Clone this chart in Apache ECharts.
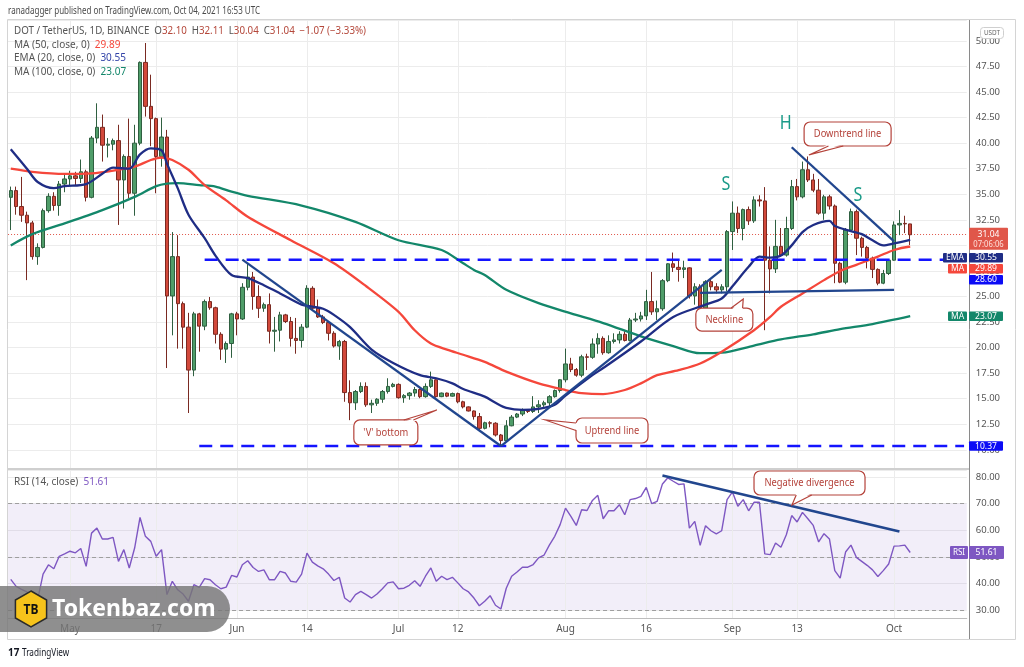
<!DOCTYPE html>
<html>
<head>
<meta charset="utf-8">
<title>DOT / TetherUS 1D</title>
<script src="https://cdn.jsdelivr.net/npm/echarts@6/dist/echarts.min.js"></script>
<style>
  html, body { margin: 0; padding: 0; background: #fff; }
  #chart { width: 1024px; height: 667px; }
</style>
</head>
<body>
<div id="chart"></div>
<script>
// DOT/USDT 日线, 2021-04-20 起, 右侧留空到 10-14
const dayCount = 178

const open = [
  34.70, 35.36, 33.80, 32.95, 32.20, 28.90, 29.80, 33.40, 34.80, 33.90,
  36.00, 36.50, 36.80, 36.55, 37.20, 34.70, 40.50, 41.55, 39.80, 39.90,
  40.25, 36.40, 38.70, 35.10, 40.00, 47.90, 43.60, 42.40, 38.70, 40.60,
  25.05, 28.90, 24.30, 22.00, 17.80, 23.30, 22.10, 24.50, 23.90, 21.30,
  19.85, 20.40, 23.30, 22.80, 25.90, 26.90, 25.00, 23.85, 24.20, 21.60,
  21.70, 23.20, 22.55, 20.90, 20.70, 22.00, 25.80, 23.85, 23.00, 22.45,
  21.40, 20.15, 20.60, 15.60, 14.60, 15.70, 16.20, 14.40, 14.55, 14.95,
  15.70, 16.20, 16.40, 15.10, 15.30, 15.55, 15.90, 15.20, 16.20, 16.85,
  15.20, 15.55, 15.25, 15.50, 14.70, 14.20, 13.80, 13.25, 12.10, 12.65,
  12.60, 11.45, 10.90, 12.35, 13.20, 13.50, 13.85, 13.75, 14.20, 14.40,
  14.60, 15.20, 15.80, 16.85, 18.40, 17.85, 17.30, 19.10, 19.05, 20.35,
  20.90, 19.50, 20.60, 20.75, 21.30, 20.70, 22.70, 22.80, 23.10, 24.50,
  23.50, 23.80, 26.55, 28.20, 27.85, 27.65, 27.80, 25.05, 25.95, 23.85,
  26.45, 25.95, 25.65, 25.95, 31.35, 33.15, 31.65, 33.50, 32.40, 34.45,
  34.35, 28.55, 27.70, 29.90, 29.05, 31.65, 35.75, 34.75, 37.40, 36.40,
  35.40, 33.15, 34.75, 33.85, 28.25, 26.40, 31.50, 33.30, 30.70, 29.80,
  28.75, 27.65, 26.30, 27.25, 28.55, 32.00, 32.15, 32.10
]
const high = [
  35.75, 35.75, 36.70, 33.30, 32.40, 30.20, 33.60, 35.10, 35.20, 36.30,
  37.00, 37.30, 37.20, 38.40, 37.40, 40.70, 43.90, 42.80, 40.50, 40.45,
  41.80, 38.90, 42.40, 41.80, 48.00, 49.80, 46.70, 42.50, 42.50, 41.30,
  31.30, 31.00, 24.50, 23.40, 23.50, 23.40, 24.70, 24.95, 24.00, 21.50,
  20.60, 23.40, 23.50, 26.30, 28.20, 27.40, 26.10, 24.40, 25.30, 23.00,
  23.50, 23.30, 23.00, 22.90, 22.30, 26.10, 26.00, 24.70, 23.20, 22.60,
  21.60, 20.75, 20.75, 16.80, 15.85, 16.60, 16.60, 14.90, 15.05, 15.85,
  17.00, 16.55, 16.50, 15.45, 15.65, 16.15, 16.00, 16.50, 17.65, 16.90,
  15.60, 15.60, 15.60, 15.60, 14.80, 14.25, 13.85, 13.60, 12.75, 12.80,
  12.70, 11.55, 12.90, 13.40, 13.60, 14.05, 13.90, 15.25, 14.85, 14.80,
  15.35, 15.90, 16.90, 19.90, 19.00, 18.00, 19.30, 19.40, 20.90, 21.40,
  21.10, 21.20, 21.40, 21.60, 21.60, 22.90, 23.40, 23.50, 25.65, 27.40,
  24.60, 26.70, 28.25, 29.30, 28.60, 28.50, 27.85, 26.30, 26.20, 26.60,
  26.75, 26.30, 26.20, 31.50, 34.30, 33.80, 33.60, 33.80, 34.80, 34.90,
  35.70, 29.90, 32.50, 31.70, 32.80, 36.40, 36.50, 38.20, 38.70, 37.00,
  36.50, 34.95, 34.95, 34.00, 28.40, 31.70, 33.60, 33.50, 30.85, 29.95,
  28.90, 27.75, 27.60, 28.65, 32.35, 33.45, 32.90, 32.11
]
const low = [
  31.50, 33.00, 32.30, 26.60, 28.60, 28.10, 29.70, 33.20, 33.40, 32.90,
  35.20, 35.90, 35.90, 36.10, 34.30, 34.60, 40.00, 38.20, 38.60, 39.30,
  32.00, 33.60, 34.60, 32.90, 39.80, 42.60, 39.70, 35.10, 37.70, 18.00,
  21.20, 19.90, 19.90, 13.60, 17.20, 19.60, 21.70, 23.70, 20.40, 18.80,
  18.50, 19.00, 21.20, 22.70, 25.60, 23.70, 22.90, 23.50, 20.40, 19.60,
  20.60, 22.40, 20.10, 19.40, 20.00, 21.90, 23.70, 22.90, 22.30, 20.70,
  20.00, 18.80, 14.70, 12.90, 13.90, 15.55, 14.20, 13.60, 14.30, 14.60,
  15.50, 16.10, 15.00, 14.60, 14.90, 15.20, 15.05, 15.10, 16.05, 15.10,
  15.15, 15.15, 15.20, 14.55, 14.05, 13.75, 12.95, 11.95, 12.00, 12.20,
  11.30, 10.37, 10.80, 12.30, 13.10, 13.30, 13.60, 13.60, 13.60, 14.20,
  14.20, 15.10, 15.60, 16.60, 17.60, 17.15, 17.10, 17.80, 18.90, 19.40,
  19.30, 19.40, 20.40, 20.40, 20.60, 20.60, 22.50, 22.55, 22.70, 23.20,
  22.70, 23.60, 26.40, 27.40, 26.45, 26.80, 24.80, 24.20, 23.70, 23.70,
  25.60, 25.30, 25.30, 25.50, 29.55, 31.20, 30.50, 32.00, 32.20, 33.80,
  21.70, 25.30, 27.30, 28.90, 28.90, 31.50, 34.40, 34.60, 36.20, 35.20,
  33.00, 32.50, 33.50, 26.30, 26.30, 26.20, 31.40, 29.05, 28.90, 27.75,
  26.80, 26.10, 26.20, 27.10, 28.50, 31.00, 31.20, 30.04
]
const close = [
  35.36, 33.80, 32.95, 32.20, 28.90, 29.80, 33.40, 34.80, 33.90, 36.00,
  36.50, 36.80, 36.55, 37.20, 34.70, 40.50, 41.55, 39.80, 39.90, 40.25,
  36.40, 38.70, 35.10, 40.00, 47.90, 43.60, 42.40, 38.70, 40.60, 25.05,
  28.90, 24.30, 22.00, 17.80, 23.30, 22.10, 24.50, 23.90, 21.30, 19.85,
  20.40, 23.30, 22.80, 25.90, 26.90, 25.00, 23.85, 24.20, 21.60, 21.70,
  23.20, 22.55, 20.90, 20.70, 22.00, 25.80, 23.85, 23.00, 22.45, 21.40,
  20.15, 20.60, 15.60, 14.60, 15.70, 16.20, 14.40, 14.55, 14.95, 15.70,
  16.20, 16.40, 15.10, 15.30, 15.55, 15.90, 15.20, 16.20, 16.85, 15.20,
  15.55, 15.25, 15.50, 14.70, 14.20, 13.80, 13.25, 12.10, 12.65, 12.60,
  11.45, 10.90, 12.35, 13.20, 13.50, 13.85, 13.75, 14.20, 14.40, 14.60,
  15.20, 15.80, 16.85, 18.40, 17.85, 17.30, 19.10, 19.05, 20.35, 20.90,
  19.50, 20.60, 20.75, 21.30, 20.70, 22.70, 22.80, 23.10, 24.50, 23.50,
  23.80, 26.55, 28.20, 27.85, 27.65, 27.80, 25.05, 25.95, 23.85, 26.45,
  25.95, 25.65, 25.95, 31.35, 33.15, 31.65, 33.50, 32.40, 34.45, 34.35,
  28.55, 27.70, 29.90, 29.05, 31.65, 35.75, 34.75, 37.40, 36.40, 35.40,
  33.15, 34.75, 33.85, 28.25, 26.40, 31.50, 33.30, 30.70, 29.80, 28.75,
  27.65, 26.30, 27.25, 28.55, 32.00, 32.15, 32.10, 31.04
]

// 均线读数 [第几天, 值]
const ema20 = [[0, 39.4], [3, 37.5], [5, 36.2], [8, 35.6], [10, 35.8], [14, 36.0], [17, 37.0], [19, 37.6], [22, 37.5], [24, 38.9], [26, 39.5], [28, 39.3], [29, 38.0], [31, 35.6], [33, 33.0], [36, 30.7], [38, 29.0], [41, 27.1], [44, 26.8], [47, 26.1], [50, 25.3], [54, 24.2], [56, 24.0], [58, 23.8], [60, 23.2], [63, 22.0], [67, 19.8], [71, 18.5], [76, 17.3], [79, 17.0], [82, 16.5], [84, 15.95], [88, 15.2], [90, 14.6], [92, 14.1], [95, 13.9], [98, 14.0], [101, 14.4], [103, 15.3], [108, 17.3], [110, 18.0], [117, 20.6], [123, 23.0], [129, 24.2], [132, 24.8], [134, 26.0], [137, 27.9], [139, 28.9], [141, 28.8], [143, 29.0], [145, 30.0], [147, 31.3], [149, 32.0], [152, 32.4], [153, 31.9], [156, 31.4], [158, 31.1], [160, 30.5], [162, 30.0], [164, 30.2], [167, 30.55]]
const ma50 = [[0, 37.5], [4, 37.2], [10, 37.0], [15, 37.05], [20, 37.4], [23, 37.7], [26, 38.35], [28, 38.6], [30, 38.35], [33, 37.4], [36, 35.9], [40, 34.4], [44, 32.8], [52, 30.5], [60, 28.25], [66, 26.0], [72, 23.5], [75, 21.7], [78, 20.4], [81, 19.8], [84, 19.3], [88, 18.6], [92, 17.65], [98, 16.5], [103, 15.85], [106, 15.55], [110, 15.45], [114, 15.85], [117, 16.5], [120, 17.3], [124, 17.8], [128, 18.45], [132, 19.6], [138, 21.7], [141, 23.0], [143, 24.0], [147, 25.3], [151, 26.6], [154, 27.5], [157, 28.1], [161, 28.9], [164, 29.55], [167, 29.89]]
const ma100 = [[0, 30.0], [4, 31.1], [10, 32.15], [17, 33.45], [23, 34.75], [27, 35.8], [29, 36.05], [31, 36.1], [35, 35.9], [38, 35.75], [41, 35.25], [44, 34.85], [54, 33.9], [64, 32.3], [72, 30.5], [80, 29.55], [84, 28.25], [86, 27.6], [88, 27.1], [92, 25.65], [98, 24.35], [104, 23.35], [110, 22.4], [117, 21.1], [123, 20.15], [128, 19.45], [132, 19.5], [138, 20.2], [143, 20.8], [149, 21.3], [154, 21.8], [160, 22.3], [167, 23.07]]

const rsi = [
  41.5, 38.9, 37.8, 36.8, 35.1, 33.9, 43.5, 47.0, 45.5, 50.2,
  51.1, 52.1, 51.5, 53.1, 46.4, 58.9, 60.8, 56.7, 56.7, 57.3,
  48.3, 52.7, 45.8, 53.3, 64.8, 57.7, 55.8, 50.2, 52.7, 35.8,
  40.8, 37.6, 36.0, 33.3, 39.5, 38.5, 41.8, 41.4, 39.5, 38.0,
  38.6, 43.0, 42.4, 47.0, 48.5, 46.0, 44.5, 45.1, 41.4, 41.4,
  44.5, 43.9, 40.8, 40.5, 43.5, 51.4, 48.0, 46.6, 45.5, 43.5,
  41.1, 42.3, 34.5, 33.0, 35.8, 37.0, 35.8, 34.5, 36.0, 38.0,
  40.2, 40.6, 38.0, 38.2, 39.3, 41.0, 38.9, 42.7, 45.8, 40.8,
  42.7, 41.4, 42.3, 40.2, 38.0, 36.8, 34.5, 31.6, 33.3, 35.4,
  31.8, 30.4, 38.2, 42.7, 44.3, 46.1, 46.1, 47.1, 49.6, 50.6,
  54.4, 57.7, 62.1, 68.3, 65.2, 61.8, 67.7, 67.4, 71.2, 73.1,
  64.3, 67.3, 67.3, 69.6, 65.8, 71.5, 71.9, 72.7, 76.1, 70.0,
  70.8, 77.4, 79.7, 78.4, 77.2, 77.4, 60.8, 63.3, 54.3, 61.7,
  59.8, 58.6, 59.8, 71.5, 74.4, 69.0, 71.5, 67.3, 70.5, 70.5,
  51.1, 50.8, 55.2, 53.6, 58.3, 65.5, 63.1, 66.7, 64.3, 61.8,
  55.6, 58.7, 56.7, 44.8, 42.0, 51.8, 54.4, 49.8, 48.3, 46.8,
  45.1, 42.6, 44.8, 47.3, 54.0, 54.1, 54.4, 51.61
]

// 画线
const resistance = [[36, 28.6], [177, 28.6]]
const support = [[35, 10.37], [177, 10.37]]
const downTrend = [[43, 28.6], [91, 10.37]]
const upTrend = [[91, 10.37], [132, 27.6]]
const neckline = [[128, 25.35], [164, 25.65]]
const downTrendRight = [[145, 39.6], [164, 30.4]]
const rsiDivergence = [[121, 80.6], [165, 59.5]]

const tickDays = ['2021-05-01', '2021-05-17', '2021-06-01', '2021-06-14', '2021-07-01', '2021-07-12', '2021-08-01', '2021-08-16', '2021-09-01', '2021-09-13', '2021-10-01']
const tickLabels = ['May', '17', 'Jun', '14', 'Jul', '12', 'Aug', '16', 'Sep', '13', 'Oct']

const lastClose = 31.04
const lastEma = 30.55
const lastMa50 = 29.89
const lastMa100 = 23.07
const lastRsi = 51.61

const days = []
for (let i = 0; i < dayCount; i++) {
  days.push(new Date(Date.UTC(2021, 3, 20 + i)).toISOString().slice(0, 10))
}
const candles = open.map((o, i) => [o, close[i], low[i], high[i]])

const emaColor = '#1f2d85'
const ma50Color = '#f5473b'
const ma100Color = '#13876a'
const trendColor = '#21468e'
const dashBlue = '#1414ff'
const noteRed = '#b4423a'
const font = '"Noto Sans", "Liberation Sans", sans-serif'

const gridLeft = 8.06
const gridWidth = 958.7

const trendLine = (data, color, width, type) => ({
  type: 'line',
  data: data,
  showSymbol: false,
  silent: true,
  z: 5,
  lineStyle: { color: color, width: width, type: type || 'solid' }
})

const option = {
  animation: false,
  backgroundColor: '#fff',
  textStyle: { fontFamily: font },
  grid: [
    { left: gridLeft, width: gridWidth, top: 20, height: 448 },
    { left: gridLeft, width: gridWidth, top: 470, height: 148 }
  ],
  xAxis: [
    {
      type: 'category', gridIndex: 0, data: days, boundaryGap: true,
      axisLine: { show: false }, axisTick: { show: false }, axisLabel: { show: false }, splitLine: { show: false }
    },
    {
      type: 'category', gridIndex: 1, data: days, boundaryGap: true,
      axisLine: { show: true, lineStyle: { color: '#bdbdbd' } },
      axisTick: { show: false },
      splitLine: { show: false },
      axisLabel: {
        color: '#555', fontSize: 10, margin: 6,
        interval: (idx, val) => tickDays.includes(val),
        formatter: val => tickLabels[tickDays.indexOf(val)] || ''
      }
    }
  ],
  yAxis: [
    {
      type: 'value', gridIndex: 0, position: 'right', min: 8.22, max: 52.05,
      minInterval: 2.5, maxInterval: 2.5,
      axisLine: { show: false }, axisTick: { show: false },
      splitLine: { lineStyle: { color: '#ececec' } },
      axisLabel: {
        color: '#555', fontSize: 9.5, margin: 9, showMinLabel: false, showMaxLabel: false,
        formatter: v => v.toFixed(2)
      }
    },
    {
      type: 'value', gridIndex: 1, position: 'right', min: 27, max: 82.63,
      minInterval: 10, maxInterval: 10,
      axisLine: { show: false }, axisTick: { show: false },
      splitLine: { lineStyle: { color: '#ececec' } },
      axisLabel: {
        color: '#555', fontSize: 9.5, margin: 9, showMinLabel: false, showMaxLabel: false,
        formatter: v => v.toFixed(2)
      }
    }
  ],
  series: [
    {
      type: 'candlestick',
      xAxisIndex: 0, yAxisIndex: 0,
      data: candles,
      barWidth: '72%',
      z: 3,
      itemStyle: {
        color: '#4f9d69', color0: '#d2493b',
        borderColor: '#2f5f40', borderColor0: '#7a2a22', borderWidth: 1
      },
      markLine: {
        silent: true, symbol: 'none', z: 1,
        label: { show: false },
        data: tickDays.map(d => ({ xAxis: d, lineStyle: { color: '#ececec', width: 1, type: 'solid' } }))
          .concat([{ yAxis: lastClose, lineStyle: { color: '#e0574a', width: 1, type: [1, 2] } }])
      }
    },
    { type: 'line', name: 'MA100', data: ma100, smooth: 0.3, showSymbol: false, z: 4, lineStyle: { color: ma100Color, width: 2.3 } },
    { type: 'line', name: 'MA50', data: ma50, smooth: 0.3, showSymbol: false, z: 4, lineStyle: { color: ma50Color, width: 2.3 } },
    { type: 'line', name: 'EMA20', data: ema20, smooth: 0.3, showSymbol: false, z: 4, lineStyle: { color: emaColor, width: 2.3 } },
    trendLine(resistance, dashBlue, 2.5, [13, 8]),
    trendLine(support, dashBlue, 2.5, [13, 8]),
    trendLine(downTrend, trendColor, 2.3),
    trendLine(upTrend, trendColor, 2.3),
    trendLine(neckline, trendColor, 2.3),
    trendLine(downTrendRight, trendColor, 2.3),
    {
      type: 'line', name: 'RSI', xAxisIndex: 1, yAxisIndex: 1,
      data: rsi, showSymbol: false, z: 3,
      lineStyle: { color: '#7e57c2', width: 1.4 },
      markArea: {
        silent: true,
        itemStyle: { color: 'rgba(126, 87, 194, 0.1)' },
        data: [[{ yAxis: 70 }, { yAxis: 30 }]]
      },
      markLine: {
        silent: true, symbol: 'none', z: 1,
        label: { show: false },
        data: tickDays.map(d => ({ xAxis: d, lineStyle: { color: '#ececec', width: 1, type: 'solid' } }))
          .concat([70, 50, 30].map(v => ({ yAxis: v, lineStyle: { color: '#9e9e9e', width: 1, type: [4, 3] } })))
      }
    },
    Object.assign(trendLine(rsiDivergence, trendColor, 2.6), { xAxisIndex: 1, yAxisIndex: 1 })
  ]
}

const chart = echarts.init(document.getElementById('chart'))
chart.setOption(option)

// 分数位置换算成像素
const toPx = (grid, i, v) => {
  const i0 = Math.floor(i)
  const a = chart.convertToPixel({ gridIndex: grid }, [i0, v])
  const b = chart.convertToPixel({ gridIndex: grid }, [i0 + 1, v])
  return [a[0] + (b[0] - a[0]) * (i - i0), a[1]]
}

const notes = [
  { text: "'V' bottom", grid: 0, box: [63.7, 12.92], w: 64, h: 25, tip: [79.1, 13.89], base: [0.78, 0, 0.93, 0] },
  { text: 'Uptrend line', grid: 0, box: [104.95, 13.11], w: 72, h: 25, tip: [99.2, 12.92], base: [0, 0.2, 0, 0.5] },
  { text: 'Neckline', grid: 0, box: [127.2, 23.87], w: 57, h: 23, tip: [136, 24.76], base: [0.62, 0, 0.82, 0] },
  { text: 'Downtrend line', grid: 0, box: [147.3, 42.07], w: 87, h: 24, tip: [148.2, 38.85], base: [0.28, 1, 0.45, 1] },
  { text: 'Negative divergence', grid: 1, box: [138, 82.26], w: 111, h: 24, tip: [145.05, 69.47], base: [0.38, 1, 0.52, 1] }
]
const patternMarks = [
  { text: 'S', at: [132.8, 35.9] },
  { text: 'H', at: [143.9, 41.9] },
  { text: 'S', at: [157.3, 34.9] }
]

const txt = (x, y, text, opt) => Object.assign({
  type: 'text', x: x, y: y, z: 30, silent: true,
  style: Object.assign({
    text: text, fill: '#555', font: '10px ' + font,
    align: 'left', textAlign: 'left', verticalAlign: 'middle', textVerticalAlign: 'middle'
  }, opt && opt.style)
}, opt && opt.props)

const shift = (f) => (f === 0 ? 2 : f === 1 ? -2 : 0)

function callout(n) {
  const tl = toPx(n.grid, n.box[0], n.box[1])
  const tip = toPx(n.grid, n.tip[0], n.tip[1])
  const b1 = [tl[0] + n.base[0] * n.w, tl[1] + n.base[1] * n.h]
  const b2 = [tl[0] + n.base[2] * n.w, tl[1] + n.base[3] * n.h]
  const in1 = [b1[0] + shift(n.base[0]), b1[1] + shift(n.base[1])]
  const in2 = [b2[0] + shift(n.base[2]), b2[1] + shift(n.base[3])]
  return [
    { type: 'rect', z: 40, silent: true, shape: { x: tl[0], y: tl[1], width: n.w, height: n.h, r: 6 }, style: { fill: '#fff', stroke: noteRed, lineWidth: 1.2 } },
    { type: 'polygon', z: 41, silent: true, shape: { points: [in1, tip, in2] }, style: { fill: '#fff' } },
    { type: 'polyline', z: 41, silent: true, shape: { points: [b1, tip, b2] }, style: { stroke: noteRed, lineWidth: 1.2, fill: null } },
    txt(tl[0] + n.w / 2, tl[1] + n.h / 2, n.text, {
      props: { z: 42, scaleX: 0.85 },
      style: { fill: noteRed, font: '11px ' + font, align: 'center', textAlign: 'center' }
    })
  ]
}

function badge(x, y, w, h, fill, text, fs) {
  return [
    { type: 'rect', z: 50, silent: true, shape: { x: x, y: y, width: w, height: h, r: 1 }, style: { fill: fill } },
    txt(x + w / 2, y + h / 2, text, {
      props: { z: 51, scaleX: 0.9 },
      style: { fill: '#fff', font: (fs || 9.5) + 'px ' + font, align: 'center', textAlign: 'center' }
    })
  ]
}

const g = []

// 外框 / 价格轴竖线 / 面板分隔
g.push({ type: 'rect', z: 25, silent: true, shape: { x: 7.5, y: 19.5, width: 1008, height: 620 }, style: { fill: 'none', stroke: '#d4d4d4' } })
g.push({ type: 'line', z: 25, silent: true, shape: { x1: 969.5, y1: 20, x2: 969.5, y2: 639 }, style: { stroke: '#8a8a8a', lineWidth: 1 } })
g.push({ type: 'line', z: 25, silent: true, shape: { x1: 8, y1: 469, x2: 969, y2: 469 }, style: { stroke: '#cfcfcf', lineWidth: 2 } })

// 标题与图例
const rich = (valueColor, size) => ({
  g: { fill: '#555', font: size + 'px ' + font },
  v: { fill: valueColor, font: size + 'px ' + font }
})
g.push(txt(8, 11, 'ranadagger published on TradingView.com, Oct 04, 2021 16:53 UTC', { props: { scaleX: 0.8 }, style: { fill: '#4a4a4a' } }))
g.push(txt(14, 31, '{g|DOT / TetherUS, 1D, BINANCE}  {g|O}{v|32.10}  {g|H}{v|32.11}  {g|L}{v|30.04}  {g|C}{v|31.04}  {v|−1.07 (−3.33%)}', {
  props: { scaleX: 0.93 },
  style: { rich: rich('#b4473a', 10.5) }
}))
const legendRows = [
  ['MA (50, close, 0)', lastMa50, ma50Color],
  ['EMA (20, close, 0)', lastEma, '#3344a8'],
  ['MA (100, close, 0)', lastMa100, ma100Color]
]
legendRows.forEach((r, k) => {
  g.push(txt(14, 45 + k * 13.5, '{g|' + r[0] + '}  {v|' + r[1].toFixed(2) + '}', {
    style: { rich: rich(r[2], 10) }
  }))
})
g.push(txt(14, 482, '{g|RSI (14, close)}  {v|' + lastRsi.toFixed(2) + '}', {
  style: { rich: rich('#7e57c2', 10) }
}))

// 头肩字母
patternMarks.forEach(m => {
  const p = toPx(0, m.at[0], m.at[1])
  g.push(txt(p[0], p[1], m.text, { props: { scaleX: 0.85 }, style: { fill: '#1a9a88', font: '19px ' + font, align: 'center', textAlign: 'center' } }))
})

notes.forEach(n => { g.push(...callout(n)) })

// 右侧价格标签
const yClose = toPx(0, 0, lastClose)[1]
g.push({ type: 'rect', z: 50, silent: true, shape: { x: 969, y: yClose - 7, width: 39, height: 22, r: 1 }, style: { fill: '#e0574a' } })
g.push(txt(988.5, yClose, lastClose.toFixed(2), { props: { z: 51, scaleX: 0.9 }, style: { fill: '#fff', font: '9.5px ' + font, align: 'center', textAlign: 'center' } }))
g.push(txt(988.5, yClose + 10, '07:06:06', { props: { z: 51, scaleX: 0.85 }, style: { fill: '#ffe1dc', font: '9px ' + font, align: 'center', textAlign: 'center' } }))
const stackTop = yClose + 18.2
g.push(...badge(943, stackTop, 24, 9.6, emaColor, 'EMA'))
g.push(...badge(969, stackTop, 34, 9.6, emaColor, lastEma.toFixed(2)))
g.push(...badge(948, stackTop + 11, 19, 9.6, ma50Color, 'MA'))
g.push(...badge(969, stackTop + 11, 34, 9.6, ma50Color, lastMa50.toFixed(2)))
g.push(...badge(969, stackTop + 22, 34, 9.6, '#0b0bf5', resistance[0][1].toFixed(2)))
const yMa100 = toPx(0, 0, lastMa100)[1]
g.push(...badge(948, yMa100 - 4.8, 19, 9.6, ma100Color, 'MA'))
g.push(...badge(969, yMa100 - 4.8, 34, 9.6, ma100Color, lastMa100.toFixed(2)))
const ySupport = toPx(0, 0, support[0][1])[1]
g.push(...badge(969, ySupport - 4.8, 34, 9.6, '#0b0bf5', support[0][1].toFixed(2)))
const yRsi = toPx(1, 0, lastRsi)[1]
g.push(...badge(950, yRsi - 6.5, 18, 13, '#7e57c2', 'RSI', 9))
g.push(...badge(969, yRsi - 6.5, 35, 13, '#7e57c2', lastRsi.toFixed(2)))
g.push({ type: 'rect', z: 50, silent: true, shape: { x: 980.5, y: 27.5, width: 23, height: 11, r: 3 }, style: { fill: '#fff', stroke: '#cfcfcf' } })
g.push(txt(992, 33, 'USDT', { props: { z: 51, scaleX: 0.85 }, style: { fill: '#666', font: '7.5px ' + font, align: 'center', textAlign: 'center' } }))

// 水印
g.push({ type: 'rect', z: 60, silent: true, shape: { x: -30, y: 586, width: 260, height: 46, r: 23 }, style: { fill: 'rgba(118, 118, 118, 0.82)' } })
const hex = []
for (let k = 0; k < 6; k++) {
  const a = (Math.PI / 3) * k - Math.PI / 2
  hex.push([31 + 18 * Math.cos(a), 609 + 18 * Math.sin(a)])
}
g.push({ type: 'polygon', z: 61, silent: true, shape: { points: hex }, style: { fill: '#f6c31b', stroke: '#2a2a2a', lineWidth: 1.5 } })
g.push(txt(31, 610, 'TB', { props: { z: 62, scaleX: 0.8 }, style: { fill: '#111', font: 'bold 15px ' + font, align: 'center', textAlign: 'center' } }))
g.push(txt(52, 609, 'Tokenbaz.com', { props: { z: 62 }, style: { fill: '#fff', font: 'bold 23px ' + font } }))

// TradingView 标志
g.push(txt(8, 653, '17', { props: { scaleX: 0.9 }, style: { fill: '#131722', font: 'bold 11px ' + font } }))
g.push(txt(22, 653, 'TradingView', { props: { scaleX: 0.82 }, style: { fill: '#131722', font: '10px ' + font } }))

chart.setOption({ graphic: { elements: g } })
</script>
</body>
</html>
